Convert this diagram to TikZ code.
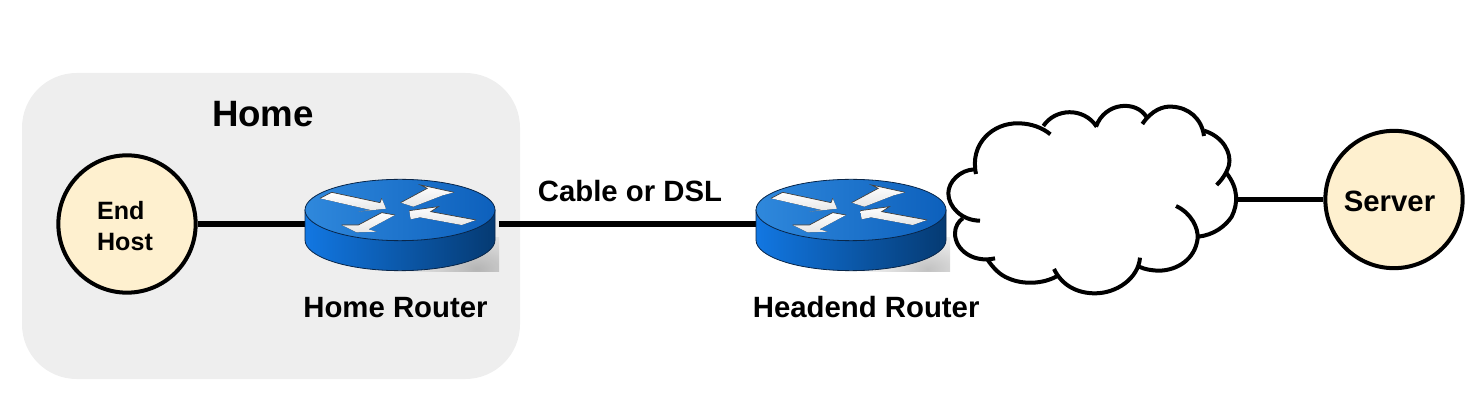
\documentclass[tikz,border=0pt]{standalone}
\usepackage{fontspec}
\setmainfont{Liberation Sans}
\usetikzlibrary{positioning,fadings}
\definecolor{homegray}{HTML}{EEEEEE}
\definecolor{hostfill}{HTML}{FEF0CF}
\definecolor{routerlight}{HTML}{2F88DC}
\definecolor{routermid}{HTML}{0D60BC}
\definecolor{sidelight}{HTML}{1277E2}
\definecolor{sidedark}{HTML}{053A72}
\definecolor{routeredge}{HTML}{08264A}
\tikzfading[name=softshadow, inner color=transparent!0, outer color=transparent!100]

\begin{document}
\begin{tikzpicture}[
    x=0.75pt, y=-0.75pt,
    hostnode/.style={circle, draw=black, line width=3pt, fill=hostfill, minimum size=103pt, inner sep=0pt},
    hosttext/.style={inner sep=0pt, font=\fontsize{18.8}{23}\selectfont\bfseries},
    routernode/.style={rectangle, minimum width=142.5pt, minimum height=69pt, inner sep=0pt},
    cloudnode/.style={rectangle, minimum width=216.75pt, minimum height=142.5pt, inner sep=0pt},
    lbl/.style={inner sep=0pt, font=\fontsize{22}{26}\selectfont\bfseries},
    link/.style={line width=4.2pt, black},
    lobe/.style={line width=3pt, black},
    flowarrow/.style={top color=white, bottom color=black!10, draw=none},
    flowedge/.style={draw=black!75, line width=0.5pt, line join=miter},
    pics/router/.style={code={
        \tikzset{x=0.25pt, y=-0.25pt}
        \begin{scope}
            \clip (0,40) rectangle (297,143);
            \fill[black, opacity=0.24, path fading=softshadow] (230,135) ellipse [x radius=230, y radius=130];
        \end{scope}
        \draw[routeredge, line width=0.6pt, left color=sidelight, right color=sidedark]
            (-285,-42) -- (-285,48) .. controls (-285,99) and (-157,140) .. (0,140)
            .. controls (157,140) and (285,99) .. (285,48) -- (285,-42) -- cycle;
        \draw[routeredge, line width=0.6pt, left color=routerlight, right color=routermid]
            (-285,-42) .. controls (-285,-93) and (-157,-134) .. (0,-134)
            .. controls (157,-134) and (285,-93) .. (285,-42)
            .. controls (285,9) and (157,50) .. (0,50)
            .. controls (-157,50) and (-285,9) .. (-285,-42) -- cycle;
        \fill[flowarrow] (-240,-77) -- (-205,-95) -- (-60,-64) -- (-55,-77) -- (-42,-46) -- (-125,-37) -- (-88,-42) -- cycle;
        \fill[flowarrow] (2,-64) -- (82,-107) -- (62,-117) -- (162,-95) -- (128,-86) -- (40,-52) -- cycle;
        \fill[flowarrow] (-15,-27) -- (-55,-34) -- (-125,3) -- (-175,3) -- (-130,25) -- (-70,23) -- (-95,16) -- cycle;
        \fill[flowarrow] (228,-12) -- (185,3) -- (60,-20) -- (32,-14) -- (28,-40) -- (115,-52) -- (92,-37) -- cycle;
        \draw[flowedge] (-240,-77) -- (-205,-95) -- (-60,-64) -- (-55,-77);
        \draw[flowedge] (2,-64) -- (82,-107) -- (62,-117) -- (162,-95);
        \draw[flowedge] (-15,-27) -- (-55,-34) -- (-125,3) -- (-175,3);
        \draw[flowedge] (28,-40) -- (115,-52) -- (92,-37) -- (228,-12);
    }}
]
    \useasboundingbox (0,0) rectangle (1476,409);

    \fill[homegray, rounded corners=41pt] (22,73) rectangle (520,379);
    \node[lbl, font=\fontsize{27.5}{32}\selectfont\bfseries] (home) at (263,114) {Home};

    \node[hostnode] (endhost) at (127,224) {};
    \node[hosttext, align=left] (endhostname) at (125,226) {End\\Host};
    \node[routernode] (homerouter) at (400,224) {};
    \node[routernode] (headrouter) at (851,224) {};
    \node[cloudnode] (internet) at (1092,199.5) {};
    \node[hostnode] (server) at (1394,199.5) {};
    \node[lbl] (servername) at (1389.5,201) {Server};

    \draw[link] (endhost) -- (homerouter);
    \draw[link, shorten <=3pt] (homerouter) -- (headrouter);
    \draw[link] (internet.east) -- (server.west);

    \pic at (homerouter) {router};
    \pic at (headrouter) {router};

    % cloud outline, lobe by lobe
    \begin{scope}[shift={(930,90)}, x=0.25pt, y=-0.25pt, line cap=butt]
        \draw[lobe] (138,252) .. controls (118,160) and (190,98) .. (265,100) .. controls (305,100) and (340,115) .. (361,133);
        \draw[lobe] (340,108) .. controls (375,55) and (460,50) .. (500,110);
        \draw[lobe] (498,110) .. controls (525,35) and (620,30) .. (650,82);
        \draw[lobe] (637,102) .. controls (665,60) and (700,48) .. (725,50) .. controls (775,52) and (815,85) .. (822,138);
        \draw[lobe] (822,122) .. controls (880,140) and (905,190) .. (897,225) .. controls (890,250) and (875,270) .. (860,285);
        \draw[lobe] (890,250) .. controls (925,295) and (925,340) .. (905,380) .. controls (885,410) and (850,435) .. (805,440);
        \draw[lobe] (738,348) .. controls (785,370) and (805,415) .. (803,445) .. controls (795,510) and (740,540) .. (690,542) .. controls (665,542) and (645,538) .. (627,530);
        \draw[lobe] (630,503) .. controls (625,565) and (560,610) .. (495,610) .. controls (440,610) and (395,585) .. (372,537);
        \draw[lobe] (382,558) .. controls (340,582) and (280,585) .. (235,565) .. controls (210,555) and (190,535) .. (172,508);
        \draw[lobe] (195,505) .. controls (130,520) and (75,480) .. (75,430) .. controls (75,410) and (85,395) .. (98,385);
        \draw[lobe] (150,392) .. controls (95,392) and (55,350) .. (55,310) .. controls (55,275) and (90,240) .. (133,238);
    \end{scope}

    \node[lbl, below=20pt of homerouter, xshift=-3.4pt] (homelabel) {Home Router};
    \node[lbl, below=19.2pt of headrouter, xshift=11.4pt] (headlabel) {Headend Router};
    \node[lbl] (linklabel) at (630,191) {Cable or DSL};
\end{tikzpicture}
\end{document}
